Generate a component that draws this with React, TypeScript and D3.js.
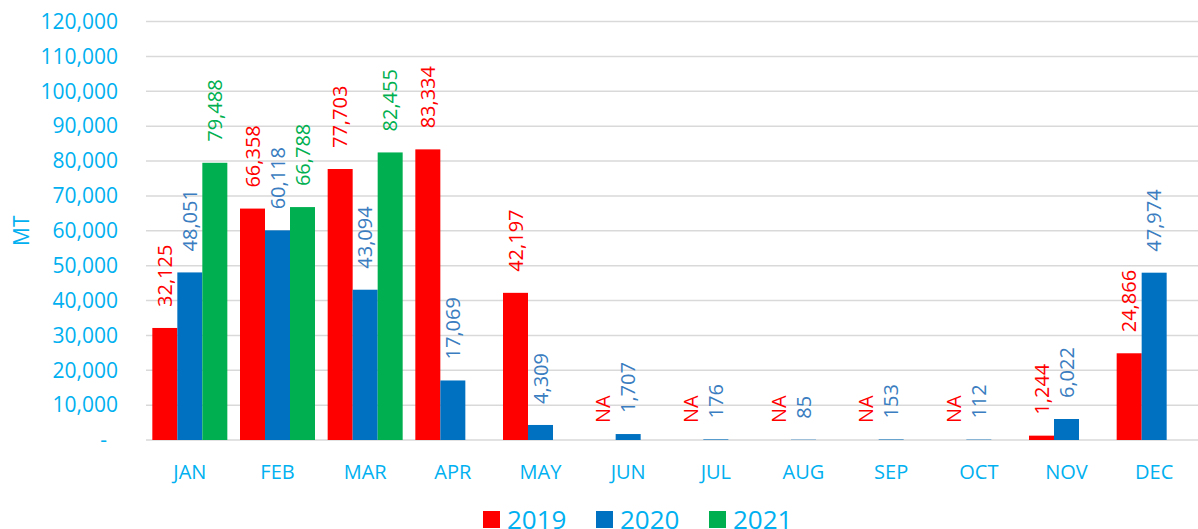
import React from "react";
import * as d3 from "d3";

const months = ["JAN", "FEB", "MAR", "APR", "MAY", "JUN", "JUL", "AUG", "SEP", "OCT", "NOV", "DEC"];
const years = ["2019", "2020", "2021"];
const v2019: (number | null)[] = [32125, 66358, 77703, 83334, 42197, null, null, null, null, null, 1244, 24866];
const v2020: (number | null)[] = [48051, 60118, 43094, 17069, 4309, 1707, 176, 85, 153, 112, 6022, 47974];
const v2021: (number | null)[] = [79488, 66788, 82455, null, null, null, null, null, null, null, null, null];
const naFlags2019 = [false, false, false, false, false, true, true, true, true, true, false, false];
const yTicks = [0, 10000, 20000, 30000, 40000, 50000, 60000, 70000, 80000, 90000, 100000, 110000, 120000];

const barColors = ["#FF0000", "#0070C0", "#00B050"];
const labelColors = ["#FF0000", "#3A7DC0", "#00B050"];
const axisColor = "#00B0F0";
const FONT = "'Open Sans', sans-serif";

export default function App() {
  const W = 1198, H = 529;
  const left = 146, right = 1198, top = 21.5, bottom = 440;
  const x = d3.scaleBand<string>().domain(months).range([left, right]).paddingInner(0).paddingOuter(0);
  const y = d3.scaleLinear().domain([0, 120000]).range([bottom, top]);
  const bw = 25;
  const series = [v2019, v2020, v2021];
  const fmt = d3.format(",");

  return (
    <div style={{ position: "absolute", left: 0, top: 0 }}>
      <svg width={W} height={H} style={{ display: "block", background: "#fff" }} fontFamily={FONT}>
        {yTicks.map((t) => (
          <g key={t}>
            <line x1={left} x2={right} y1={y(t)} y2={y(t)} stroke="#D9D9D9" strokeWidth={1.5} />
            <text
              x={t === 0 ? 107 : 118}
              y={y(t)}
              dy="0.35em"
              textAnchor="end"
              fontSize={21}
              fill={axisColor}
            >
              {t === 0 ? "-" : fmt(t)}
            </text>
          </g>
        ))}
        <text
          transform={`translate(22,${(top + bottom) / 2}) rotate(-90)`}
          textAnchor="middle"
          dy="0.35em"
          fontSize={21}
          fill={axisColor}
        >
          MT
        </text>
        {months.map((m, i) => {
          const cx = (x(m) as number) + x.bandwidth() / 2;
          return (
            <g key={m}>
              {series.map((s, k) => {
                const bx = cx - 1.5 * bw + k * bw;
                const v = s[i];
                const isNA = k === 0 && naFlags2019[i];
                if (v == null && !isNA) return null;
                const val = v ?? 0;
                const top0 = y(val);
                const lblY = isNA ? bottom - 17 : top0 - 21;
                return (
                  <g key={k}>
                    {v != null && (
                      <rect x={bx} y={top0} width={bw} height={bottom - top0} fill={barColors[k]} />
                    )}
                    <text
                      transform={`translate(${bx + bw / 2},${lblY}) rotate(-90)`}
                      textAnchor="start"
                      dy="0.35em"
                      fontSize={20}
                      fill={labelColors[k]}
                    >
                      {isNA ? "NA" : fmt(val)}
                    </text>
                  </g>
                );
              })}
              <text x={cx} y={472} dy="0.35em" textAnchor="middle" fontSize={20} fill={axisColor}>
                {m}
              </text>
            </g>
          );
        })}
        {years.map((yr, k) => (
          <g key={yr} transform={`translate(${483 + k * 113},511)`}>
            <rect x={0} y={0} width={17} height={17} fill={barColors[k]} />
            <text x={24} y={9} dy="0.35em" fontSize={26} fill={axisColor}>
              {yr}
            </text>
          </g>
        ))}
      </svg>
    </div>
  );
}
